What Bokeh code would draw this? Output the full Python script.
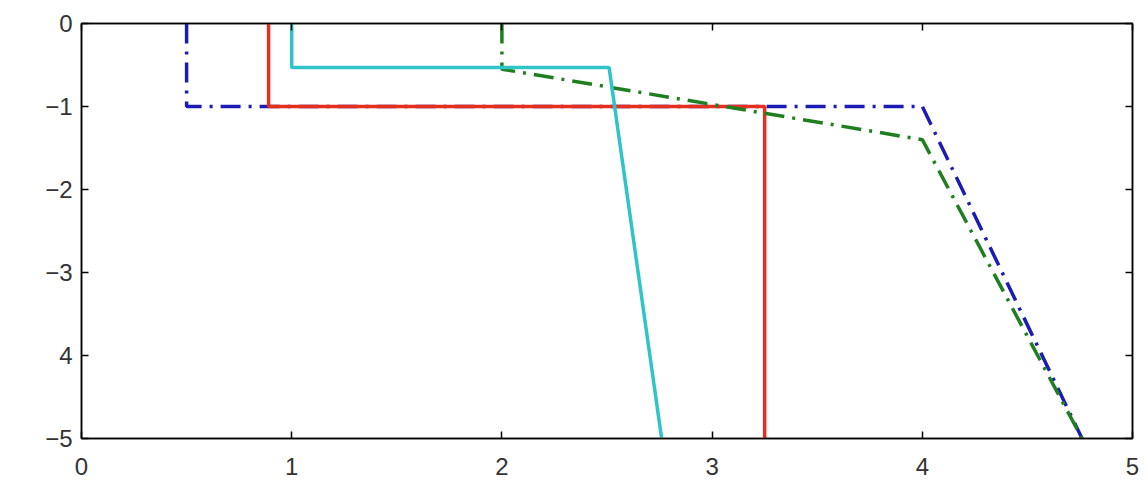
from bokeh.plotting import figure
from bokeh.models import LinearAxis, FixedTicker, Range1d
from bokeh.embed import file_html
from bokeh.resources import INLINE

# data
blue_x = [0.5, 0.5, 4.0, 4.76]
blue_y = [0.0, -1.0, -1.0, -5.0]
green_x = [2.0, 2.0, 4.0, 4.76]
green_y = [0.0, -0.55, -1.4, -5.0]
red_x = [0.89, 0.89, 3.25, 3.25]
red_y = [0.0, -1.0, -1.0, -5.0]
cyan_x = [1.0, 1.0, 2.51, 2.76]
cyan_y = [0.0, -0.53, -0.53, -5.0]

x_ticks = [0, 1, 2, 3, 4, 5]
y_ticks = [0, -1, -2, -3, -4, -5]
y_tick_labels = {0: "0", -1: "\u22121", -2: "\u22122", -3: "\u22123", -4: "4", -5: "\u22125"}

p = figure(frame_width=1051, frame_height=415, output_backend="svg", toolbar_location=None,
           x_range=Range1d(0, 5), y_range=Range1d(-5, 0),
           min_border_left=81, min_border_right=8, min_border_top=23, min_border_bottom=42,
           x_axis_location=None, y_axis_location=None)
p.background_fill_color = "white"
p.border_fill_color = "white"
p.outline_line_color = "black"
p.outline_line_width = 1.5
p.xgrid.visible = False
p.ygrid.visible = False

FONT = "Liberation Sans"

def style(ax, labels=True):
    ax.axis_line_color = "black"
    ax.axis_line_width = 1.5
    ax.major_tick_in = 7
    ax.major_tick_out = 0
    ax.major_tick_line_width = 1.5
    ax.minor_tick_line_color = None
    ax.major_label_text_font = FONT
    ax.major_label_text_font_size = "24px"
    if labels:
        ax.major_label_text_color = "#333333"
    else:
        ax.major_label_text_color = None
        ax.major_label_standoff = 0

xb = LinearAxis(ticker=FixedTicker(ticks=x_ticks))
style(xb)
xb.major_label_standoff = 19
p.add_layout(xb, "below")
yl = LinearAxis(ticker=FixedTicker(ticks=y_ticks))
yl.major_label_overrides = y_tick_labels
style(yl)
yl.major_label_standoff = 9
p.add_layout(yl, "left")
xt = LinearAxis(ticker=FixedTicker(ticks=x_ticks))
style(xt, labels=False)
p.add_layout(xt, "above")
yr = LinearAxis(ticker=FixedTicker(ticks=y_ticks))
style(yr, labels=False)
p.add_layout(yr, "right")

dash = "20 8 3 8"
p.line(blue_x, blue_y, line_color="#1c1cb4", line_width=3.5, line_dash=dash)
p.line(red_x, red_y, line_color="#e6301f", line_width=3.5)
p.line(green_x, green_y, line_color="#1f7f1f", line_width=3.5, line_dash=dash)
p.line(cyan_x, cyan_y, line_color="#2ec4c8", line_width=3.5)

open("out.html", "w").write(file_html(p, INLINE))
